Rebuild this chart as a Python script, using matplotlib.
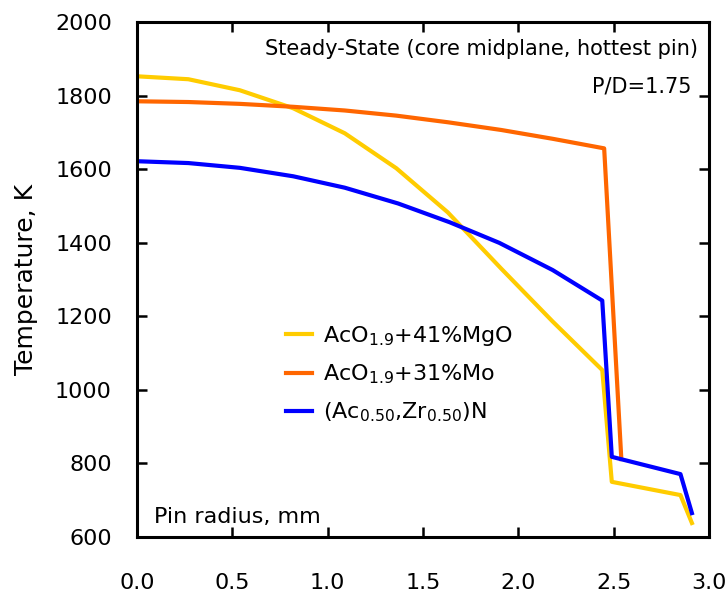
import matplotlib
matplotlib.use("Agg")
import matplotlib.pyplot as plt

plt.rcParams['font.family'] = 'DejaVu Sans'
plt.rcParams['mathtext.default'] = 'regular'

# temperature profiles across the fuel pin
r_mgo = [0.0, 0.27, 0.54, 0.82, 1.09, 1.36, 1.63, 1.91, 2.18, 2.44, 2.49, 2.85, 2.91]
t_mgo = [1853, 1845, 1815, 1766, 1698, 1603, 1483, 1330, 1186, 1054, 750, 714, 638]

r_mo = [0.0, 0.27, 0.54, 0.82, 1.09, 1.36, 1.63, 1.91, 2.18, 2.45, 2.54]
t_mo = [1785, 1783, 1778, 1770, 1760, 1746, 1728, 1707, 1683, 1657, 812]

r_n = [0.0, 0.27, 0.54, 0.82, 1.09, 1.37, 1.64, 1.90, 2.18, 2.44, 2.49, 2.85, 2.91]
t_n = [1622, 1617, 1604, 1581, 1550, 1507, 1456, 1400, 1326, 1243, 818, 771, 665]

labels = [r'AcO$_{1.9}$+41%MgO', r'AcO$_{1.9}$+31%Mo', r'(Ac$_{0.50}$,Zr$_{0.50}$)N']

fig = plt.figure(figsize=(7.28, 6.01), dpi=100)
ax = fig.add_axes([0.188, 0.1065, 0.786, 0.8565])

ax.plot(r_mgo, t_mgo, color='#FFCC00', lw=3, label=labels[0])
ax.plot(r_mo, t_mo, color='#FF6600', lw=3, label=labels[1])
ax.plot(r_n, t_n, color='#0000FF', lw=3, label=labels[2])

ax.set_xlim(0, 3.0)
ax.set_ylim(600, 2000)
ax.set_xticks([0.0, 0.5, 1.0, 1.5, 2.0, 2.5, 3.0])
ax.set_xticklabels(['0.0', '0.5', '1.0', '1.5', '2.0', '2.5', '3.0'])
ax.set_yticks(range(600, 2001, 200))
ax.tick_params(direction='in', length=7, width=1.8, top=True, right=True,
               labelsize=16)
ax.tick_params(axis='x', pad=26)
ax.tick_params(axis='y', pad=18)
for s in ax.spines.values():
    s.set_linewidth(2.2)

ax.set_ylabel('Temperature, K', fontsize=18, labelpad=12)
ax.text(0.03, 0.02, 'Pin radius, mm', transform=ax.transAxes, fontsize=16,
        ha='left', va='bottom')
ax.text(0.98, 0.968, 'Steady-State (core midplane, hottest pin)',
        transform=ax.transAxes, fontsize=15, ha='right', va='top')
ax.text(0.97, 0.895, 'P/D=1.75', transform=ax.transAxes, fontsize=15,
        ha='right', va='top')

ax.legend(loc='lower left', bbox_to_anchor=(0.225, 0.18), frameon=False,
          fontsize=16, handlelength=1.2, handletextpad=0.5, labelspacing=0.65)

fig.savefig('out.png', dpi=100)
